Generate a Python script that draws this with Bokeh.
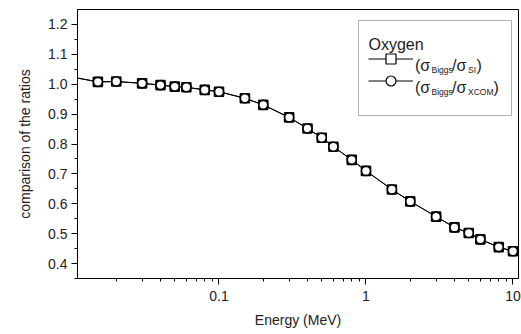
from bokeh.plotting import figure
from bokeh.models import (Range1d, FixedTicker, SingleIntervalTicker, CustomJSTickFormatter,
                          Label, BoxAnnotation, Legend, LegendItem)
from bokeh.embed import file_html
from bokeh.resources import INLINE

energy = [0.01, 0.015, 0.02, 0.03, 0.04, 0.05, 0.06, 0.08, 0.1, 0.15, 0.2, 0.3, 0.4, 0.5,
          0.6, 0.8, 1.0, 1.5, 2.0, 3.0, 4.0, 5.0, 6.0, 8.0, 10.0]
ratio_si = [1.024, 1.008, 1.009, 1.003, 0.997, 0.992, 0.990, 0.981, 0.975, 0.953, 0.931,
            0.889, 0.852, 0.821, 0.791, 0.747, 0.710, 0.648, 0.608, 0.557, 0.521, 0.502,
            0.481, 0.455, 0.441]
ratio_xcom = [1.024, 1.008, 1.009, 1.003, 0.997, 0.992, 0.990, 0.981, 0.975, 0.953, 0.931,
              0.889, 0.852, 0.821, 0.791, 0.747, 0.710, 0.648, 0.608, 0.557, 0.521, 0.502,
              0.481, 0.455, 0.441]
x_major = [0.1, 1, 10]
x_minor = [0.02, 0.03, 0.04, 0.05, 0.06, 0.07, 0.08, 0.09,
           0.2, 0.3, 0.4, 0.5, 0.6, 0.7, 0.8, 0.9,
           2, 3, 4, 5, 6, 7, 8, 9]

FONT = "Liberation Sans"
TXT = "#222222"

p = figure(width=521, height=334, x_axis_type="log", output_backend="svg",
           toolbar_location=None, x_range=Range1d(0.0109, 10.9), y_range=Range1d(0.35, 1.25),
           min_border_left=77, min_border_right=3, min_border_top=9, min_border_bottom=56)
p.grid.visible = False
p.outline_line_color = "black"
p.outline_line_width = 1
p.background_fill_color = "white"
p.border_fill_color = "white"

p.xaxis.ticker = FixedTicker(ticks=x_major, minor_ticks=x_minor)
p.xaxis.formatter = CustomJSTickFormatter(code="return String(tick);")
p.yaxis.ticker = SingleIntervalTicker(interval=0.1, num_minor_ticks=2)
p.yaxis.formatter = CustomJSTickFormatter(code="return tick.toFixed(1);")

for ax in (p.xaxis[0], p.yaxis[0]):
    ax.axis_line_color = "black"
    ax.major_tick_line_color = "black"
    ax.minor_tick_line_color = "black"
    ax.major_tick_in = 0
    ax.major_tick_out = 6
    ax.minor_tick_in = 0
    ax.minor_tick_out = 3
    ax.major_label_text_font = FONT
    ax.major_label_text_font_size = "14px"
    ax.major_label_text_color = TXT
    ax.axis_label_text_font = FONT
    ax.axis_label_text_font_size = "14px"
    ax.axis_label_text_font_style = "normal"
    ax.axis_label_text_color = TXT

p.xaxis.axis_label = "Energy (MeV)"
p.yaxis.axis_label = "comparison of the ratios"
p.xaxis.major_label_standoff = 6
p.yaxis.major_label_standoff = 4
p.xaxis.axis_label_standoff = 8
p.yaxis.axis_label_standoff = 12

l1 = p.line(energy, ratio_si, line_color="black", line_width=1)
s1 = p.scatter(energy, ratio_si, marker="square", size=9, fill_color="white",
               line_color="black", line_width=1.6)
l2 = p.line(energy, ratio_xcom, line_color="black", line_width=1)
s2 = p.scatter(energy, ratio_xcom, marker="circle", size=9, fill_color="white",
               line_color="black", line_width=1.6)

# legend box (frame-relative screen units: x from frame left, y up from frame bottom)
FH = 269
def sy(y):
    return FH - (y - 9)
def sx(x):
    return x - 77

box = BoxAnnotation(left=sx(358), right=sx(511), top=sy(20), bottom=sy(115),
                    left_units="screen", right_units="screen", top_units="screen",
                    bottom_units="screen", fill_color="white", fill_alpha=1.0,
                    line_color="black", line_width=1)
p.add_layout(box)

# icon samples for the legend
s1_icon = p.scatter(energy, ratio_si, marker="square", size=10, fill_color="white",
                    line_color="black", line_width=1.2, visible=False)
c2_icon = p.scatter(energy, ratio_xcom, marker="circle", size=10, fill_color="white",
                    line_color="black", line_width=1.2, visible=False)

def icon_legend(renderers, x, yc):
    gh = 25
    leg = Legend(items=[LegendItem(label=" ", renderers=renderers)],
                 location=(sx(x), sy(yc + gh / 2)), orientation="vertical",
                 glyph_width=45, glyph_height=gh, label_height=gh, spacing=0,
                 label_standoff=0, padding=0, margin=0, border_line_alpha=0,
                 background_fill_alpha=0, label_text_font_size="1px")
    p.add_layout(leg, "center")

icon_legend([l1, s1_icon], 368, 58.5)
icon_legend([l2, c2_icon], 368, 80)

def lab(text, x, y, size):
    p.add_layout(Label(x=sx(x), y=sy(y), x_units="screen", y_units="screen", text=text,
                       text_font=FONT, text_font_size=size, text_color=TXT,
                       text_baseline="alphabetic", text_align="left"))

lab("Oxygen", 368, 43.5, "16px")
# row 1: (σBiggs/σSI)
lab("(σ", 414.5, 65, "16px")
lab("Biggs", 431, 69.5, "8.5px")
lab("/σ", 451.5, 65, "16px")
lab("SI", 467.5, 69.5, "8.5px")
lab(")", 476, 65, "16px")
# row 2: (σBiggs/σXCOM)
lab("(σ", 414.5, 86.5, "16px")
lab("Biggs", 431, 91, "8.5px")
lab("/σ", 451.5, 86.5, "16px")
lab("XCOM", 467.5, 91, "8.5px")
lab(")", 493, 86.5, "16px")

open("out.html", "w").write(file_html(p, INLINE))
